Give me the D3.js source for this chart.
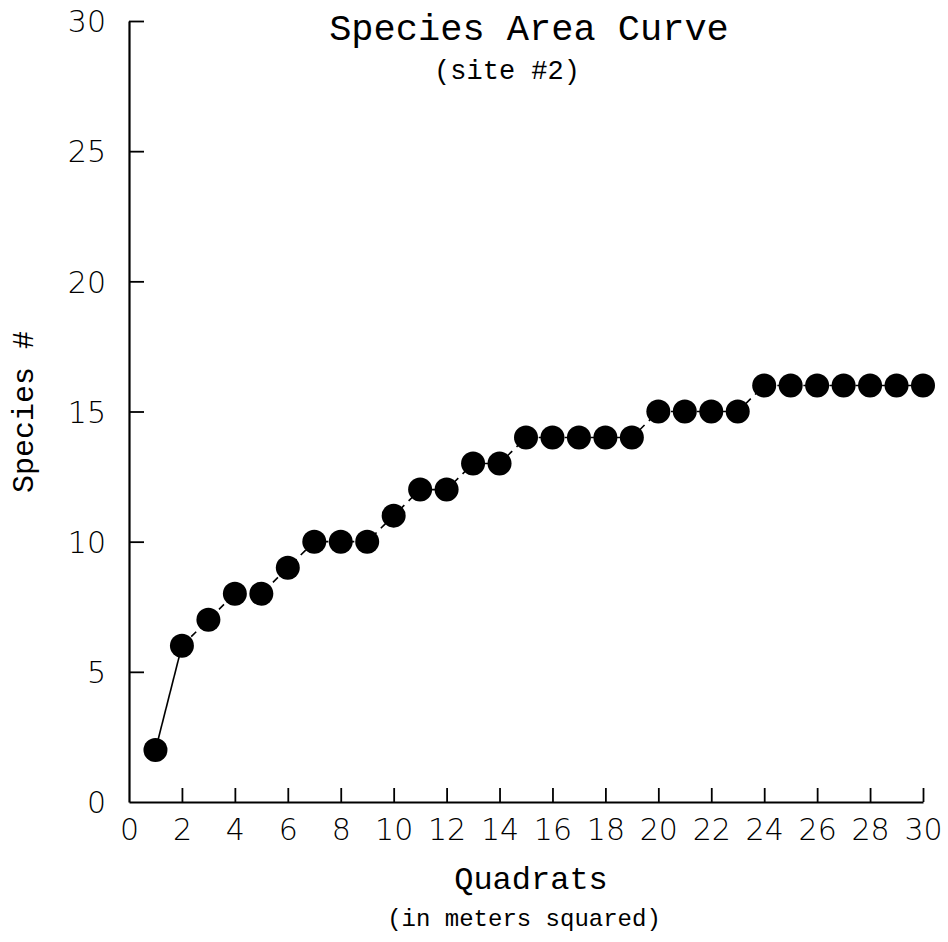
<!DOCTYPE html>
<html>
<head>
<meta charset="utf-8">
<script src="https://cdn.jsdelivr.net/npm/d3@7"></script>
<style>
  html, body { margin: 0; padding: 0; background: #fff; }
  svg { display: block; }
</style>
</head>
<body>
<svg id="chart" width="948" height="942"></svg>
<script>
// ---- data ----
const quadrats = [1,2,3,4,5,6,7,8,9,10,11,12,13,14,15,16,17,18,19,20,21,22,23,24,25,26,27,28,29,30];
const species  = [2,6,7,8,8,9,10,10,10,11,12,12,13,13,14,14,14,14,14,15,15,15,15,16,16,16,16,16,16,16];
const xTicks = [0,2,4,6,8,10,12,14,16,18,20,22,24,26,28,30];
const yTicks = [0,5,10,15,20,25,30];
const titleText = "Species Area Curve";
const subtitleText = "(site #2)";
const xLabel = "Quadrats";
const xSubLabel = "(in meters squared)";
const yLabel = "Species #";

const svg = d3.select("#chart");
const x = d3.scaleLinear().domain([0, 30]).range([129, 923]);
const y = d3.scaleLinear().domain([0, 30]).range([802, 21]);

const tickFont = "'DejaVu Sans', sans-serif";
const monoFont = "'Liberation Mono', 'Courier New', monospace";

// x axis (ticks pointing up / inward)
const xAxis = d3.axisBottom(x).tickValues(xTicks).tickSizeInner(-14).tickSizeOuter(0).tickPadding(0);
const gx = svg.append("g").attr("transform", `translate(0,${y(0)})`).call(xAxis);
gx.select(".domain").attr("stroke", "#000").attr("stroke-width", 2.2);
gx.selectAll(".tick line").attr("stroke", "#000").attr("stroke-width", 1.8)
  .filter(d => d === 0).remove();
gx.selectAll(".tick text")
  .attr("y", 38).attr("dy", 0)
  .attr("font-family", tickFont).attr("font-weight", 200)
  .attr("font-size", 30).attr("fill", "#000");

// y axis (ticks pointing right / inward)
const yAxis = d3.axisLeft(y).tickValues(yTicks).tickSizeInner(-15).tickSizeOuter(0).tickPadding(0);
const gy = svg.append("g").attr("transform", `translate(${x(0)},0)`).call(yAxis);
gy.select(".domain").attr("stroke", "#000").attr("stroke-width", 2.2);
gy.selectAll(".tick line").attr("stroke", "#000").attr("stroke-width", 1.8)
  .filter(d => d === 0).remove();
gy.selectAll(".tick text")
  .attr("x", -23).attr("dy", "0.36em")
  .attr("font-family", tickFont).attr("font-weight", 200)
  .attr("font-size", 30).attr("fill", "#000");

// connecting line
const pts = quadrats.map((q, i) => [q, species[i]]);
const line = d3.line().x(d => x(d[0])).y(d => y(d[1]));
svg.append("path").datum(pts.slice(0, 2)).attr("d", line)
  .attr("fill", "none").attr("stroke", "#000").attr("stroke-width", 1.6);
svg.append("path").datum(pts.slice(1)).attr("d", line)
  .attr("fill", "none").attr("stroke", "#000").attr("stroke-width", 1.6)
  .attr("stroke-dasharray", "7,6");

// markers
svg.append("g").selectAll("circle").data(pts).join("circle")
  .attr("cx", d => x(d[0])).attr("cy", d => y(d[1]))
  .attr("r", 12).attr("fill", "#000");

// titles
svg.append("text").attr("x", 529).attr("y", 40).attr("text-anchor", "middle")
  .attr("font-family", monoFont).attr("font-size", 37).attr("fill", "#000").text(titleText);
svg.append("text").attr("x", 507).attr("y", 79).attr("text-anchor", "middle")
  .attr("font-family", monoFont).attr("font-size", 27).attr("fill", "#000").text(subtitleText);
svg.append("text").attr("x", 531).attr("y", 889).attr("text-anchor", "middle")
  .attr("font-family", monoFont).attr("font-size", 32).attr("fill", "#000").text(xLabel);
svg.append("text").attr("x", 524).attr("y", 926).attr("text-anchor", "middle")
  .attr("font-family", monoFont).attr("font-size", 24).attr("fill", "#000").text(xSubLabel);
svg.append("text").attr("transform", "translate(33,412) rotate(-90)").attr("text-anchor", "middle")
  .attr("font-family", monoFont).attr("font-size", 30).attr("fill", "#000").text(yLabel);
</script>
</body>
</html>
